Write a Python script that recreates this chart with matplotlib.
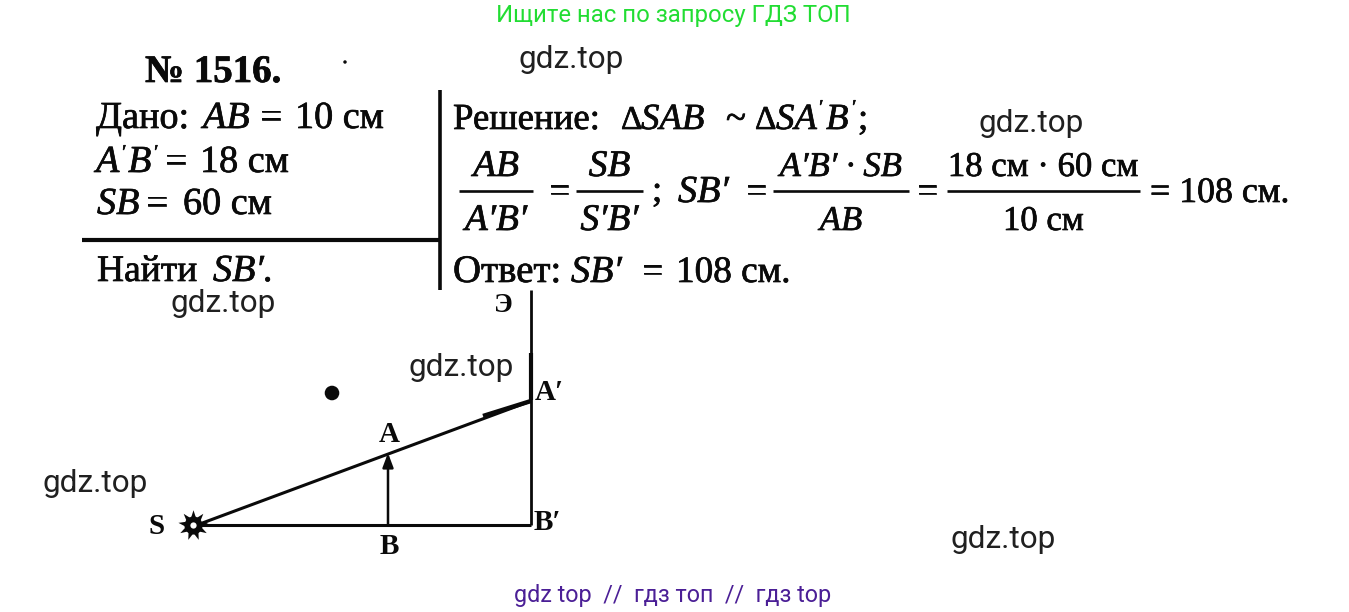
import matplotlib
matplotlib.use("Agg")
import matplotlib.pyplot as plt
import matplotlib.patheffects as pe

W, H = 1349, 612
SERIF = "Liberation Serif"
SANS = "Roboto"

watermark_labels = ["gdz.top"] * 6
watermark_x = [518, 978, 170, 409, 42, 950]
watermark_y = [59, 123, 303, 368, 484, 539]

# (text, x, baseline y, style, weight, size)
given = [
    ("№ 1516.", 145, 82, "normal", "bold", 28),
    ("Дано:", 96, 128, "normal", "normal", 27.5),
    ("AB", 203, 128, "italic", "normal", 27.5),
    ("=", 260, 128, "normal", "normal", 27.5),
    ("10 см", 295, 128, "normal", "normal", 27.5),
    ("A", 96, 172, "italic", "normal", 27.5),
    ("′", 121, 158, "italic", "normal", 14),
    ("B", 128, 172, "italic", "normal", 27.5),
    ("′", 153, 158, "italic", "normal", 14),
    ("=", 165, 172, "normal", "normal", 27.5),
    ("18 см", 200, 172, "normal", "normal", 27.5),
    ("SB", 97, 214, "italic", "normal", 27.5),
    ("=", 146, 214, "normal", "normal", 27.5),
    ("60 см", 183, 214, "normal", "normal", 27.5),
    ("Найти", 97, 281, "normal", "normal", 27),
    ("SB′.", 213, 281, "italic", "normal", 27.5),
]
solution = [
    ("Решение:", 453, 129, "normal", "normal", 26.5),
    ("Δ", 621, 129, "normal", "normal", 24),
    ("SAB", 641, 129, "italic", "normal", 26.5),
    ("~", 726, 129, "normal", "normal", 26.5),
    ("Δ", 755, 129, "normal", "normal", 24),
    ("SA", 776, 129, "italic", "normal", 26.5),
    ("′", 818, 113, "italic", "normal", 14),
    ("B", 826, 129, "italic", "normal", 26.5),
    ("′", 851, 113, "italic", "normal", 14),
    (";", 858, 129, "normal", "normal", 26.5),
    (";", 652, 201, "normal", "normal", 26.5),
    ("SB′", 678, 202, "italic", "normal", 27.5),
    ("=", 746, 202, "normal", "normal", 26.5),
    ("=", 549, 202, "normal", "normal", 26.5),
    ("=", 917, 202, "normal", "normal", 26.5),
    ("= 108 см.", 1150, 202, "normal", "normal", 25.8),
    ("Ответ:", 453, 282, "normal", "normal", 28),
    ("SB′", 571, 282, "italic", "normal", 27.5),
    ("=", 642, 282, "normal", "normal", 26.5),
    ("108 см.", 676, 282, "normal", "normal", 26.8),
]
# (numerator, denominator, bar start, bar end, style, size)
fractions = [
    ("AB", "A′B′", 459, 533, "italic", 27),
    ("SB", "S′B′", 576, 643, "italic", 27),
    ("A′B′ · SB", "AB", 773, 909, "italic", 25),
    ("18 см · 60 см", "10 см", 947, 1140, "normal", 25),
]
frac_bar_y = 191
frac_num_y = 176
frac_den_y = 230

rule_h = ([82, 440], [240, 240])
rule_v = ([440, 440], [90, 290])

screen_x = [531, 531]
screen_y = [290, 525]
screen_thick_y = [353, 400]
axis_x = [197, 531]
axis_y = [525, 525]
ray_x = [197, 531]
ray_y = [525, 401]
ray_thick_x = [483, 531]
ray_thick_y = [416, 401]
object_x = 388
object_base_y = 525
object_top_y = 453
source_xy = (193, 525)
specks_x = [332, 345]
specks_y = [393, 62]
specks_size = [10.5, 2.5]

diagram_labels = [
    ("S", 157, 527), ("A", 389, 434), ("B", 389, 547),
    ("A′", 549, 393), ("B′", 547, 522),
]

fig = plt.figure(figsize=(W / 100, H / 100), dpi=100, facecolor="white")
ax = fig.add_axes([0, 0, 1, 1])
ax.set_xlim(0, W)
ax.set_ylim(H, 0)
ax.axis("off")
k = "#0a0a0a"
bolder = [pe.withStroke(linewidth=0.5, foreground=k)]

ax.text(673, 15.5, "Ищите нас по запросу ГДЗ ТОП", family=SANS, fontsize=17.2,
        color="#22dd33", ha="center", va="center")
ax.text(673, 595.5, "gdz top  //  гдз топ  //  гдз top", family=SANS, fontsize=16.8,
        color="#4b1f96", ha="center", va="center")
for s, x, y in zip(watermark_labels, watermark_x, watermark_y):
    ax.text(x, y, s, family=SANS, fontsize=22.7, color="#202020", ha="left", va="center")

for s, x, y, st, wt, fs in given + solution:
    ax.text(x, y, s, family=SERIF, style=st, weight=wt, fontsize=fs, color=k,
            ha="left", va="baseline", path_effects=bolder)

for num, den, x0, x1, st, fs in fractions:
    c = (x0 + x1) / 2
    ax.plot([x0, x1], [frac_bar_y, frac_bar_y], color=k, lw=1.9, solid_capstyle="butt")
    ax.text(c, frac_num_y, num, family=SERIF, style=st, fontsize=fs, color=k,
            ha="center", va="baseline", path_effects=bolder)
    ax.text(c, frac_den_y, den, family=SERIF, style=st, fontsize=fs, color=k,
            ha="center", va="baseline", path_effects=bolder)

ax.plot(*rule_h, color=k, lw=3, solid_capstyle="butt")
ax.plot(*rule_v, color=k, lw=2.6, solid_capstyle="butt")

ax.plot(screen_x, screen_y, color=k, lw=2, solid_capstyle="butt")
ax.plot(screen_x, screen_thick_y, color=k, lw=3, solid_capstyle="butt")
ax.plot(axis_x, axis_y, color=k, lw=2.2, solid_capstyle="butt")
ax.plot(ray_x, ray_y, color=k, lw=2.2, solid_capstyle="butt")
ax.plot(ray_thick_x, ray_thick_y, color=k, lw=3.2, solid_capstyle="butt")
ax.annotate("", xy=(object_x, object_top_y), xytext=(object_x, object_base_y),
            arrowprops=dict(arrowstyle="-|>,head_width=0.32,head_length=0.85", color=k, lw=1.8,
                            shrinkA=0, shrinkB=0))
ax.plot(*source_xy, marker=(9, 1, 0), ms=22, color=k, mew=0, ls="none")
ax.plot(*source_xy, marker="o", ms=13, color=k, mew=0, ls="none")
ax.plot(*source_xy, marker="o", ms=4.5, color="white", mew=0, ls="none")
ax.scatter(specks_x, specks_y, s=[v ** 2 for v in specks_size], color=k, linewidths=0,
           marker="o")

for s, x, y in diagram_labels:
    ax.text(x, y, s, family=SERIF, weight="bold", fontsize=21, color=k, ha="center", va="center")
ax.text(503, 306, "Э", family=SERIF, weight="bold", fontsize=20, color=k, ha="center", va="center")

fig.savefig("out.png", dpi=100, facecolor="white")
